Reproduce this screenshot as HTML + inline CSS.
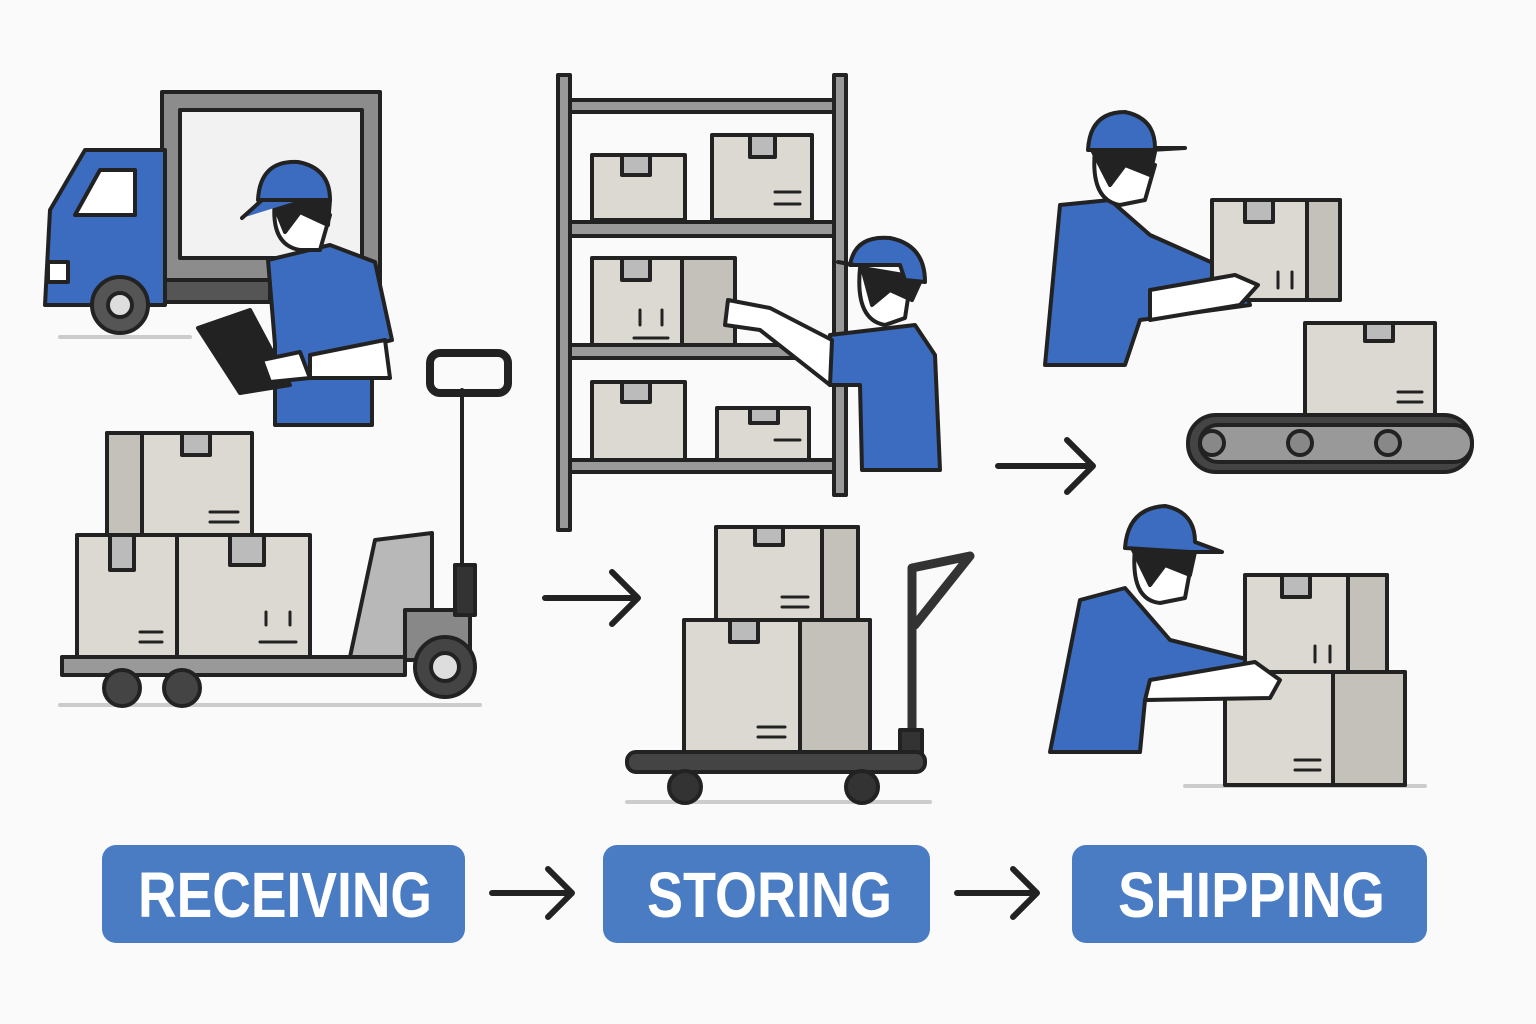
<!DOCTYPE html>
<html><head><meta charset="utf-8"><style>
html,body{margin:0;padding:0;background:#fafafa;}
svg{display:block}
text{font-family:"Liberation Sans",sans-serif;font-weight:bold;}
</style></head><body>
<svg width="1536" height="1024" viewBox="0 0 1536 1024" xmlns="http://www.w3.org/2000/svg">
<rect width="1536" height="1024" fill="#fafafa"/>
<g stroke="#222" stroke-width="4" stroke-linejoin="round" stroke-linecap="round">
<g stroke="#ccc" stroke-width="4">
<line x1="60" y1="337" x2="190" y2="337"/><line x1="60" y1="705" x2="480" y2="705"/>
<line x1="627" y1="802" x2="930" y2="802"/><line x1="1185" y1="786" x2="1425" y2="786"/>
</g>
<!-- truck -->
<rect x="162" y="92" width="218" height="208" fill="#8c8c8c"/>
<rect x="180" y="110" width="182" height="148" fill="#f2f2f2"/>
<rect x="150" y="280" width="120" height="22" fill="#555"/>
<path d="M165 150 L85 150 L50 210 L45 305 L165 305 Z" fill="#3b6cc0"/>
<path d="M100 170 L135 170 L135 215 L75 215 Z" fill="#fff"/>
<rect x="48" y="262" width="20" height="20" fill="#fff"/>
<circle cx="120" cy="305" r="28" fill="#555"/><circle cx="120" cy="305" r="12" fill="#ddd"/>
<!-- worker 1 -->
<path d="M268 260 L330 245 L375 262 L392 340 L372 345 L372 425 L275 425 L275 345 Z" fill="#3b6cc0"/>
<path d="M275 200 Q270 245 300 250 L320 250 L330 215 Z" fill="#fff"/>
<path d="M272 200 L330 200 L328 225 L300 212 L285 232 Z" fill="#222"/>
<path d="M258 200 Q260 160 298 162 Q330 168 330 200 Z" fill="#3b6cc0"/>
<path d="M242 218 L262 200 L300 200" fill="#3b6cc0"/>
<path d="M198 328 L250 310 L290 385 L240 393 Z" fill="#222"/>
<path d="M262 360 L300 352 L310 378 L270 382 Z" fill="#fff"/>
<path d="M310 355 L385 340 L390 378 L310 378 Z" fill="#fff"/>
<!-- pallet boxes -->
<rect x="107" y="433" width="145" height="102" fill="#dcd9d2"/><rect x="107" y="433" width="35" height="102" fill="#c4c1ba"/><rect x="182" y="433" width="28" height="22" fill="#bbb"/>
<rect x="77" y="535" width="100" height="122" fill="#dcd9d2"/><rect x="110" y="535" width="24" height="35" fill="#bbb"/>
<rect x="177" y="535" width="133" height="122" fill="#dcd9d2"/><rect x="230" y="535" width="34" height="30" fill="#bbb"/>
<g stroke-width="3"><path d="M210 512 H238 M210 522 H238 M140 632 H162 M140 642 H162 M266 625 V612 M290 625 V612 M260 642 H296"/></g>
<path d="M350 657 L375 540 L432 533 L432 657 Z" fill="#b8b8b8"/>
<rect x="62" y="657" width="343" height="18" fill="#999"/>
<path d="M405 610 L470 610 L470 660 L405 660 Z" fill="#888"/>
<line x1="462" y1="390" x2="462" y2="590"/>
<rect x="430" y="353" width="78" height="40" rx="10" fill="none" stroke-width="8"/>
<rect x="455" y="565" width="20" height="50" fill="#333"/>
<circle cx="122" cy="688" r="18" fill="#444"/><circle cx="182" cy="688" r="18" fill="#444"/>
<circle cx="445" cy="667" r="30" fill="#444"/><circle cx="445" cy="667" r="14" fill="#ddd"/>
<!-- shelving -->
<g fill="#999">
<rect x="558" y="75" width="12" height="455"/><rect x="834" y="75" width="12" height="420"/>
<rect x="570" y="100" width="264" height="12"/><rect x="570" y="222" width="264" height="14"/>
<rect x="570" y="345" width="264" height="13"/><rect x="570" y="460" width="264" height="12"/>
</g>
<rect x="592" y="155" width="93" height="65" fill="#dcd9d2"/><rect x="622" y="155" width="28" height="20" fill="#bbb"/>
<rect x="712" y="135" width="100" height="85" fill="#dcd9d2"/><rect x="750" y="135" width="25" height="22" fill="#bbb"/>
<rect x="592" y="258" width="90" height="87" fill="#dcd9d2"/><rect x="682" y="258" width="53" height="87" fill="#c4c1ba"/><rect x="622" y="258" width="28" height="22" fill="#bbb"/>
<rect x="592" y="382" width="93" height="78" fill="#dcd9d2"/><rect x="622" y="382" width="28" height="20" fill="#bbb"/>
<rect x="717" y="408" width="92" height="52" fill="#dcd9d2"/><rect x="750" y="408" width="28" height="15" fill="#bbb"/>
<g stroke-width="3"><path d="M775 192 H800 M775 204 H800 M640 325 V310 M662 325 V310 M634 338 H668 M775 440 H800"/></g>
<!-- worker 2 -->
<path d="M830 335 L915 325 L935 355 L940 470 L862 470 L860 385 L830 385 Z" fill="#3b6cc0"/>
<path d="M860 268 Q855 320 885 325 L905 318 L910 285 Z" fill="#fff"/>
<path d="M862 268 L922 278 L912 300 L890 290 L872 305 Z" fill="#222"/>
<path d="M850 265 Q855 235 890 238 Q925 245 925 282 L905 280 L900 265 Z" fill="#3b6cc0"/>
<path d="M838 262 L855 265" />
<path d="M832 340 L770 308 L728 300 L725 325 L760 330 L830 385 Z" fill="#fff"/>
<!-- arrows -->
<g fill="none" stroke="#222" stroke-width="6">
<path d="M545 598 L638 598 M612 572 L638 598 L612 624"/>
<path d="M998 466 L1093 466 M1067 440 L1093 466 L1067 492"/>
<path d="M492 893 L572 893 M548 869 L572 893 L548 917"/>
<path d="M957 893 L1037 893 M1013 869 L1037 893 L1013 917"/>
</g>
<!-- cart -->
<rect x="716" y="527" width="142" height="93" fill="#dcd9d2"/><rect x="822" y="527" width="36" height="93" fill="#c4c1ba"/><rect x="755" y="527" width="28" height="18" fill="#bbb"/>
<rect x="684" y="620" width="186" height="132" fill="#dcd9d2"/><rect x="800" y="620" width="70" height="132" fill="#c4c1ba"/><rect x="730" y="620" width="28" height="22" fill="#bbb"/>
<g stroke-width="3"><path d="M782 597 H808 M782 607 H808 M758 727 H785 M758 737 H785"/></g>
<path d="M912 735 L912 568 L970 556 L915 625" fill="none" stroke="#333" stroke-width="9"/>
<rect x="900" y="730" width="22" height="25" fill="#333"/>
<rect x="627" y="752" width="298" height="20" rx="9" fill="#444"/>
<circle cx="685" cy="787" r="16" fill="#333"/><circle cx="862" cy="787" r="16" fill="#333"/>
<!-- shipping worker top -->
<path d="M1060 205 L1110 200 L1150 235 L1240 275 L1250 305 L1140 320 L1125 365 L1045 365 Z" fill="#3b6cc0"/>
<path d="M1095 150 Q1090 200 1120 205 L1145 200 L1155 165 Z" fill="#fff"/>
<path d="M1092 150 L1155 152 L1150 175 L1125 165 L1110 185 Z" fill="#222"/>
<path d="M1088 150 Q1090 112 1125 112 Q1155 118 1155 148 L1185 148 L1150 150 Z" fill="#3b6cc0"/>
<rect x="1212" y="200" width="128" height="100" fill="#dcd9d2"/><rect x="1307" y="200" width="33" height="100" fill="#c4c1ba"/><rect x="1245" y="200" width="28" height="22" fill="#bbb"/>
<g stroke-width="3"><path d="M1278 288 V272 M1292 288 V272"/></g>
<path d="M1150 320 L1240 305 L1258 285 L1235 275 L1150 290 Z" fill="#fff"/>
<rect x="1305" y="323" width="130" height="92" fill="#dcd9d2"/><rect x="1365" y="323" width="28" height="18" fill="#bbb"/>
<g stroke-width="3"><path d="M1398 392 H1422 M1398 402 H1422"/></g>
<rect x="1188" y="415" width="284" height="57" rx="28" fill="#444"/>
<rect x="1200" y="425" width="272" height="37" rx="18" fill="#999"/>
<circle cx="1212" cy="443" r="12" fill="#888"/><circle cx="1300" cy="443" r="12" fill="#888"/><circle cx="1388" cy="443" r="12" fill="#888"/>
<!-- shipping worker bottom -->
<path d="M1080 600 L1125 588 L1170 640 L1270 665 L1275 695 L1145 700 L1140 752 L1050 752 Z" fill="#3b6cc0"/>
<path d="M1135 548 Q1130 600 1160 603 L1185 598 L1192 560 Z" fill="#fff"/>
<path d="M1132 548 L1195 552 L1190 575 L1165 565 L1150 585 Z" fill="#222"/>
<rect x="1245" y="575" width="142" height="97" fill="#dcd9d2"/><rect x="1348" y="575" width="39" height="97" fill="#c4c1ba"/><rect x="1282" y="575" width="28" height="22" fill="#bbb"/>
<rect x="1225" y="672" width="180" height="113" fill="#dcd9d2"/><rect x="1333" y="672" width="72" height="113" fill="#c4c1ba"/>
<g stroke-width="3"><path d="M1315 662 V646 M1330 662 V646 M1295 760 H1320 M1295 770 H1320"/></g>
<path d="M1145 700 L1270 698 L1280 680 L1255 662 L1150 680 Z" fill="#fff"/>
<path d="M1125 548 Q1128 508 1165 506 Q1195 512 1195 542 L1222 552 L1190 552 Z" fill="#3b6cc0"/>
</g>
<!-- labels -->
<rect x="102" y="845" width="363" height="98" rx="14" fill="#4a7cc4"/>
<rect x="603" y="845" width="327" height="98" rx="14" fill="#4a7cc4"/>
<rect x="1072" y="845" width="355" height="98" rx="14" fill="#4a7cc4"/>
<g fill="#fff" font-size="64">
<text x="138" y="917" textLength="294" lengthAdjust="spacingAndGlyphs">RECEIVING</text>
<text x="647" y="917" textLength="245" lengthAdjust="spacingAndGlyphs">STORING</text>
<text x="1118" y="917" textLength="267" lengthAdjust="spacingAndGlyphs">SHIPPING</text>
</g>
</svg>
</body></html>
